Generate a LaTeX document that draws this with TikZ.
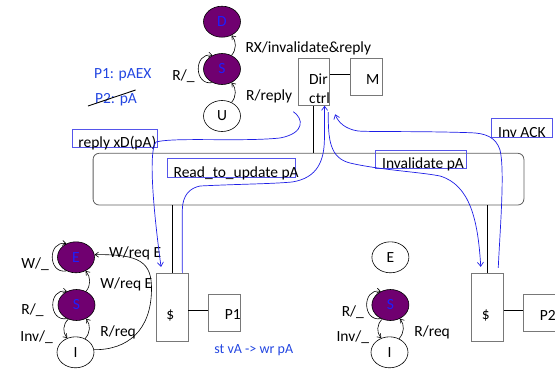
\documentclass[tikz,border=0pt]{standalone}
\usepackage{fontspec}
\setmainfont{Carlito}
\usetikzlibrary{shapes.geometric,arrows.meta}
\definecolor{stpurple}{RGB}{112,0,112}
\definecolor{stblue}{RGB}{30,30,255}
\definecolor{txblue}{RGB}{35,70,225}
\definecolor{boxblue}{RGB}{85,85,235}
\definecolor{cvblue}{RGB}{30,30,230}
\definecolor{boxgray}{RGB}{120,120,120}
\definecolor{busgray}{RGB}{95,95,95}
\newcommand{\lbtxt}[2]{\makebox[#1][l]{#2}}
\begin{document}
\begin{tikzpicture}[x=1pt,y=1pt,
  every node/.style={font=\fontsize{15.5}{18}\selectfont, inner sep=0},
  st/.style={ellipse, draw=black, line width=0.6, minimum width=37, minimum height=31, inner sep=0},
  stf/.style={st, fill=stpurple, text=stblue},
  ar/.style={-{Straight Barb[length=3.5pt,width=5pt]}, line width=0.6},
  box/.style={draw=boxgray, line width=0.9, inner sep=0},
  lblbox/.style={draw=boxblue, line width=0.8, anchor=north west, inner xsep=6.5, inner ysep=0, text height=18.3, text depth=0},
  bl/.style={draw=cvblue, line width=0.7, -{Straight Barb[length=4pt,width=6pt]}},
  conn/.style={draw=black, line width=0.8}
]
\useasboundingbox (0,0) rectangle (555,-368);

% top state machine
\node[stf] (D1) at (222,-21.7) {D};
\node[stf] (S1) at (222,-69) {S};
\node[st]  (U1) at (222,-116) {U};
\draw[ar] (S1.55) to[bend right=40] (D1.-55);
\draw[ar] (U1.55) to[bend right=40] (S1.-55);
\draw[ar] (S1.235) to[out=190,in=170,looseness=1.8] (S1.125);
\node[anchor=base west] (l1) at (245.3,-52.3) {RX/invalidate\&reply};
\node[anchor=base west] (l2) at (246,-100.3) {R/reply};
\node[anchor=base east] (l3) at (194.7,-80.3) {R/\_};

% P1/P2 notes
\node[anchor=base west, text=txblue] (n1) at (93.8,-78.6) {P1: pAEX};
\node[anchor=base west, text=txblue] (n2) at (94.9,-103) {P2: pA};
\draw[line width=0.9] (88,-106) -- (135.6,-90);

% directory and memory
\node[box, minimum width=30.8, minimum height=46.6] (dir) at (313.8,-82) {};
\node[anchor=base west] (dirt1) at (309,-84) {Dir};
\node[anchor=base west] (dirt2) at (309,-103.3) {ctrl};
\node[box, minimum width=31.9, minimum height=36.6] (M) at (366.35,-77) {};
\node[anchor=base east] (Mt) at (379.5,-84.3) {M};
\draw[conn] ([yshift=2.7]M.west) -- ([yshift=2.7]M.west -| dir.east);

% bus
\node[draw=busgray, line width=0.8, rounded corners=6, minimum width=430.8, minimum height=51.7] (bus) at (308.5,-179.15) {};
\draw[conn] (dir.south) -- (dir.south |- bus.north);

% caches and processors
\node[box, minimum width=31.9, minimum height=68.4] (LC) at (172.05,-307.5) {};
\node (LCt) at (170.3,-315) {\$};
\node[box, minimum width=31.9, minimum height=37.4] (P1) at (224.75,-313) {};
\node[anchor=east] (P1t) at (240.9,-315) {P1};
\draw[conn] ([yshift=-2.8]LC.east) -- ([yshift=-2.8]LC.east -| P1.west);
\draw[conn] (LC.north) -- (LC.north |- bus.south);

\node[box, minimum width=31.9, minimum height=68.4] (RC) at (487.25,-307.5) {};
\node (RCt) at (485.7,-315) {\$};
\node[box, minimum width=31.9, minimum height=37.4] (P2) at (539.85,-313) {};
\node[anchor=east] (P2t) at (556,-315) {P2};
\draw[conn] ([yshift=-2.8]RC.east) -- ([yshift=-2.8]RC.east -| P2.west);
\draw[conn] (RC.north) -- (RC.north |- bus.south);

\node[anchor=base west, text=txblue, font=\fontsize{14}{16}\selectfont] (n3) at (214.2,-353.6) {st vA -> wr pA};

% left state machine
\node[stf] (E2) at (76,-257.3) {E};
\node[stf] (S2) at (76.5,-305) {S};
\node[st]  (I2) at (75.5,-352.3) {I};
\draw[ar] (E2.235) to[out=190,in=170,looseness=1.8] (E2.125);
\draw[ar] (S2.235) to[out=190,in=170,looseness=1.8] (S2.125);
\draw[ar] (S2.240) to[bend right=45] (I2.120);
\draw[ar] (I2.55) to[bend right=40] (S2.-55);
\draw[ar] (S2.55) to[bend right=40] (E2.-55);
\draw[ar] (I2.8) .. controls (128,-350) and (151,-330) .. (151.5,-290) .. controls (152,-262) and (140,-254) .. (E2.8);
\node[anchor=base west] (l4) at (21.2,-268) {W/\_};
\node[anchor=base west] (l5) at (21.2,-314.6) {R/\_};
\node[anchor=base west] (l6) at (20.2,-341.3) {Inv/\_};
\node[anchor=base west] (l7) at (109,-257) {W/req E};
\node[anchor=base west] (l8) at (100.2,-288.6) {W/req E};
\node[anchor=base west] (l9) at (100.2,-336.3) {R/req};

% right state machine
\node[st]  (E3) at (390.4,-257.3) {E};
\node[stf] (S3) at (390.4,-305) {S};
\node[st]  (I3) at (389.5,-352.3) {I};
\draw[ar] (S3.235) to[out=190,in=170,looseness=1.8] (S3.125);
\draw[ar] (S3.240) to[bend right=45] (I3.120);
\draw[ar] (I3.55) to[bend right=40] (S3.-55);
\node[anchor=base west] (l10) at (341.6,-316.3) {R/\_};
\node[anchor=base west] (l11) at (336.3,-341.3) {Inv/\_};
\node[anchor=base west] (l12) at (414.2,-336.3) {R/req};

% message label boxes
\node[lblbox] (b1) at (71.5,-129) {\lbtxt{72.7pt}{reply xD(pA)}};
\node[lblbox] (b2) at (166.7,-158.3) {\lbtxt{114.8pt}{Read\_to\_update pA}};
\node[lblbox] (b3) at (375.2,-150) {\lbtxt{77.3pt}{Invalidate pA}};
\node[lblbox] (b4) at (491.3,-118.3) {\lbtxt{47.9pt}{Inv ACK}};

% blue message curves
\coordinate (r0) at (293.3,-111.7);
\draw[bl] (r0) .. controls (303,-118) and (306,-133) .. (280,-138)
  .. controls (240,-142) and (175,-137) .. (156,-142)
  .. controls (149,-150) and (152,-200) .. ([xshift=-11,yshift=6]LC.north);
\draw[bl] ([xshift=10.3]LC.north) -- (182.3,-210)
  .. controls (182.5,-195) and (190,-188) .. (200,-186)
  .. controls (240,-184) and (270,-184) .. (292,-182)
  .. controls (318,-178) and (324,-160) .. (324.4,-140)
  -- ([xshift=10.8]dir.south);
\draw[bl] ([xshift=14.5,yshift=-6.4]dir.south) .. controls (328,-140) and (330,-158) .. (350,-163)
  .. controls (380,-170) and (420,-172) .. (440,-176)
  .. controls (470,-185) and (478,-220) .. ([xshift=-6.5,yshift=6]RC.north);
\draw[bl] ([xshift=11,yshift=5]RC.north) .. controls (500,-230) and (505,-170) .. (500,-150)
  .. controls (496,-137) and (485,-133) .. (470,-132.7)
  .. controls (420,-131) and (370,-132) .. (358,-131)
  .. controls (345,-129) and (338,-122) .. ([xshift=5.5,yshift=-8.5]dir.south east);
\end{tikzpicture}
\end{document}
